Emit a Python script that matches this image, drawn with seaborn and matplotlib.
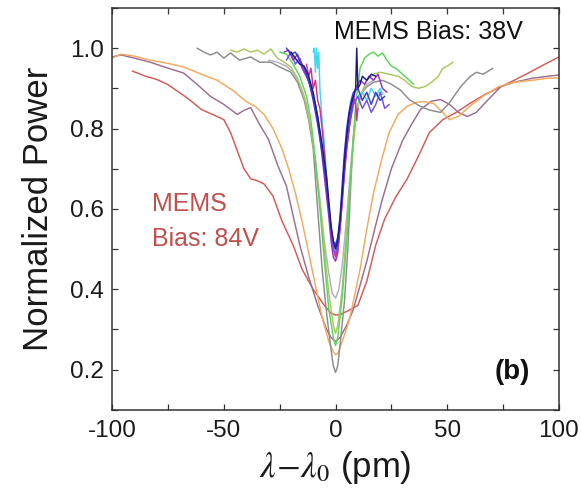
import numpy as np
import pandas as pd
import matplotlib
matplotlib.use("Agg")
import matplotlib.pyplot as plt
import seaborn as sns
from matplotlib.ticker import MultipleLocator

# ---------------- data ----------------
x_red = [-91,-85,-80,-75,-70,-65,-60,-55,-50,-47,-44,-41,-38,-35,-32,-28,-24,-19,-15,-10,-5,-2,0,2,5,10,14,18,22,27,32,37,42,48,54,60,67,74,80,87,93,100]
y_red = [0.943,0.93,0.922,0.909,0.89,0.87,0.847,0.835,0.822,0.79,0.745,0.70,0.675,0.67,0.662,0.632,0.57,0.51,0.45,0.40,0.36,0.34,0.336,0.337,0.345,0.36,0.42,0.51,0.575,0.63,0.674,0.73,0.79,0.822,0.84,0.862,0.885,0.904,0.92,0.94,0.958,0.978]

x_mauve = [-100,-96,-90,-83,-76,-68,-62,-56,-50,-44,-41,-38,-34,-30,-26,-22,-16,-12,-8,-4,-2,0,2,5,8,11,14,18,21,25,30,34,38,43,47,51,55,59,63,68,74,80,88,95,100]
y_mauve = [0.978,0.983,0.975,0.965,0.952,0.938,0.91,0.88,0.86,0.835,0.845,0.852,0.81,0.773,0.71,0.657,0.51,0.43,0.36,0.30,0.28,0.27,0.28,0.31,0.35,0.41,0.47,0.56,0.625,0.70,0.77,0.81,0.847,0.868,0.872,0.86,0.84,0.83,0.84,0.87,0.904,0.915,0.925,0.93,0.933]

x_orange = [-100,-96,-90,-83,-75,-68,-60,-53,-46,-40,-36,-32,-28,-24,-21,-18,-15,-12,-9,-6,-3,-1,0,1,3,6,8,11,14,17,21,24,28,32,36,40,44,48,51,55,60,66,73,80,88,95,100]
y_orange = [0.975,0.985,0.98,0.97,0.962,0.953,0.935,0.92,0.895,0.867,0.855,0.835,0.80,0.75,0.70,0.64,0.57,0.49,0.41,0.33,0.27,0.245,0.237,0.24,0.27,0.32,0.37,0.45,0.55,0.64,0.73,0.79,0.835,0.855,0.865,0.867,0.862,0.84,0.822,0.83,0.855,0.88,0.904,0.915,0.92,0.925,0.926]

x_gray = [-62,-59,-56,-53,-50,-47,-43,-38,-34,-29,-25,-20,-17,-14,-12,-10,-8,-6,-4,-2,-1,0,1,2,4,5.5,7,8,10,12,14,17,21,25,29,33,38,42,47,51,56,60,63,66,70.5]
y_gray = [1.0,0.99,0.983,0.99,0.975,0.988,0.97,0.978,0.965,0.965,0.953,0.94,0.915,0.87,0.82,0.75,0.6,0.45,0.34,0.25,0.21,0.193,0.21,0.26,0.37,0.5,0.68,0.78,0.86,0.89,0.904,0.915,0.92,0.91,0.896,0.872,0.855,0.846,0.84,0.864,0.904,0.928,0.94,0.935,0.95]

x_ltgray = [-30,-26,-22,-19,-16,-13,-11,-9,-7,-5,-3,-1.5,0,1.5,3,5,7,9,11,14,17]
y_ltgray = [0.97,0.965,0.955,0.94,0.91,0.86,0.8,0.72,0.62,0.52,0.44,0.39,0.378,0.40,0.46,0.58,0.72,0.83,0.88,0.91,0.92]

x_olive = [-47,-44,-41,-38,-35,-32,-29,-26,-23,-20,-17,-14,-11,-9,-7,-5,-3,-1,0,1,3,5,7,9,11,14,17,20,24,28,31,34,37,40,43,46,48,50,52.5]
y_olive = [0.995,0.99,0.998,0.99,0.995,0.985,0.998,0.975,0.965,0.953,0.925,0.88,0.8,0.72,0.62,0.5,0.39,0.31,0.29,0.31,0.4,0.55,0.7,0.82,0.88,0.92,0.935,0.94,0.935,0.93,0.92,0.905,0.9,0.904,0.915,0.93,0.95,0.955,0.965]

x_green = [-25,-22,-19,-16,-13,-11,-9,-7,-5,-3,-1,0,1,3,5,7,9,11,13,15,17,19,21,23,25,27,29,31,33,35]
y_green = [0.99,0.985,0.96,0.93,0.88,0.82,0.72,0.6,0.47,0.35,0.28,0.26,0.28,0.38,0.52,0.7,0.86,0.95,0.975,0.985,0.99,0.98,0.988,0.97,0.955,0.95,0.94,0.93,0.92,0.91]

x_cyan = [-10,-9.5,-9,-8.5,-8,-7.5,-7,-6,-5,-4,-3,-2,-1,0,1,2,3,4,5,6,8,10,12,14,16,18,20,21]
y_cyan = [0.99,1.0,0.94,1.0,0.95,0.99,0.9,0.82,0.76,0.68,0.6,0.55,0.51,0.5,0.52,0.57,0.64,0.72,0.78,0.82,0.86,0.88,0.89,0.87,0.9,0.88,0.9,0.885]

x_magenta = [-13,-12,-11,-10,-9,-8,-7,-6,-5,-4,-3,-2,-1,0,1,2,3,4,5,6,7,8,9,9.5,10]
y_magenta = [0.96,0.93,0.95,0.9,0.92,0.87,0.85,0.8,0.74,0.67,0.6,0.54,0.5,0.48,0.5,0.55,0.62,0.7,0.76,0.8,0.84,0.88,0.86,0.82,0.85]

x_violet = [-22,-20,-18,-16,-14,-12,-10,-8,-6,-4,-2,-1,0,1,2,4,6,8,10,12,14,16,18,20,22,24]
y_violet = [0.97,0.99,0.96,0.975,0.94,0.92,0.88,0.83,0.75,0.65,0.55,0.5,0.49,0.51,0.56,0.7,0.8,0.86,0.88,0.85,0.87,0.84,0.86,0.89,0.85,0.86]

x_purple = [-23,-21,-19,-17,-15,-13,-11,-9,-7,-5,-3,-2,-1,0,1,2,3,5,7,9,11,13,15,17,19,21,23]
y_purple = [0.99,0.995,0.97,0.985,0.95,0.93,0.9,0.86,0.78,0.68,0.58,0.52,0.48,0.47,0.49,0.55,0.62,0.75,0.84,0.9,0.92,0.91,0.93,0.92,0.935,0.9,0.89]

x_blue = [-22,-20,-18,-16,-14,-12,-10,-8,-6,-4,-3,-2,-1,0,1,2,3,4,5,6,7,8,10,12,14,16,18,20,22]
y_blue = [1.0,0.985,0.99,0.97,0.95,0.92,0.87,0.81,0.74,0.66,0.6,0.55,0.52,0.51,0.53,0.58,0.66,0.74,0.8,0.84,0.87,0.89,0.9,0.87,0.89,0.86,0.89,0.87,0.88]

x_navy = [-20,-18,-16,-14,-12,-10,-8,-6,-4,-3,-2,-1,0,1,2,3,4,5,6,7,8,9,9.5,10,11,12,14,16,18]
y_navy = [0.99,0.975,0.96,0.955,0.93,0.89,0.83,0.76,0.68,0.62,0.56,0.52,0.50,0.52,0.57,0.64,0.72,0.78,0.83,0.86,0.88,0.9,1.0,0.9,0.91,0.93,0.92,0.935,0.93]

series_names = ["red", "mauve", "orange", "gray", "ltgray", "olive", "green",
                "cyan", "magenta", "violet", "purple", "blue", "navy"]
series_x = [x_red, x_mauve, x_orange, x_gray, x_ltgray, x_olive, x_green,
            x_cyan, x_magenta, x_violet, x_purple, x_blue, x_navy]
series_y = [y_red, y_mauve, y_orange, y_gray, y_ltgray, y_olive, y_green,
            y_cyan, y_magenta, y_violet, y_purple, y_blue, y_navy]
colors = ["#d35a55", "#9c6e8e", "#f4aa5c", "#8c8c8c", "#b0b0c4", "#a9c85b", "#5cd65c",
          "#40d8ec", "#d0308a", "#7050f0", "#9b30c8", "#3040d0", "#1c1c80"]

xticks = [-100, -50, 0, 50, 100]
yticks = [0.2, 0.4, 0.6, 0.8, 1.0]
xtick_labels = ["-100", "-50", "0", "50", "100"]
ytick_labels = ["0.2", "0.4", "0.6", "0.8", "1.0"]

# ---------------- build long table ----------------
frames = []
for name, xs, ys in zip(series_names, series_x, series_y):
    frames.append(pd.DataFrame({"series": name, "x": xs, "y": ys}))
df = pd.concat(frames, ignore_index=True)

# ---------------- style ----------------
sns.set_theme(style="ticks")
plt.rcParams["font.family"] = ["Liberation Sans", "DejaVu Sans"]
plt.rcParams["mathtext.fontset"] = "stix"

fig = plt.figure(figsize=(5.81, 4.95), dpi=100)
ax = fig.add_axes([0.193, 0.172, 0.769, 0.812])

sns.lineplot(data=df, x="x", y="y", hue="series", hue_order=series_names,
             palette=dict(zip(series_names, colors)), sort=False, estimator=None,
             units="series", legend=False, linewidth=1.05, ax=ax)

ax.set_xlim(-100, 100)
ax.set_ylim(0.1, 1.1)
ax.set_xticks(xticks)
ax.set_xticklabels(xtick_labels)
ax.set_yticks(yticks)
ax.set_yticklabels(ytick_labels)
ax.xaxis.set_minor_locator(MultipleLocator(25))
ax.yaxis.set_minor_locator(MultipleLocator(0.1))
ax.tick_params(axis="both", which="both", direction="in", top=True, right=True,
               length=4.5, width=0.9, color="#333333")
ax.tick_params(axis="both", which="major", labelsize=17.5, labelcolor="#1a1a1a")
ax.tick_params(axis="x", which="major", pad=7)
ax.tick_params(axis="y", which="major", pad=6)
for s in ax.spines.values():
    s.set_color("#333333")
    s.set_linewidth(1.1)

ax.set_xlabel(r"$\lambda\!-\!\lambda_0$ (pm)", fontsize=25, color="#1a1a1a", labelpad=5)
ax.set_ylabel("Normalized Power", fontsize=25, color="#1a1a1a", labelpad=11)

ax.text(-0.5, 1.04, "MEMS Bias: 38V", fontsize=18, color="#111111", ha="left", va="center")
ax.text(-82, 0.612, "MEMS", fontsize=18, color="#c0504d", ha="left", va="center")
ax.text(-82, 0.526, "Bias: 84V", fontsize=18, color="#c0504d", ha="left", va="center")
ax.text(71, 0.193, "(b)", fontsize=20, fontweight="bold", color="#111111", ha="left", va="center")

fig.savefig("out.png", dpi=100)
